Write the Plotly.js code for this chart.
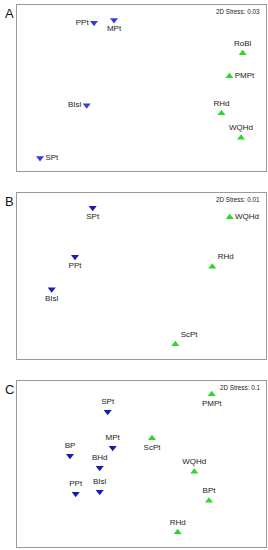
<!DOCTYPE html>
<html>
<head>
<meta charset="utf-8">
<script src="https://cdn.plot.ly/plotly-3.0.1.min.js"></script>
<style>html,body{margin:0;padding:0;background:#fff;}#chart{width:268px;height:550px;}</style>
</head>
<body>
<div id="chart"></div>
<script>
// Panel A (nMDS ordination, box-relative units)
const aLabels = ['PPt','MPt','BIsl','SPt','RoBl','PMPt','RHd','WQHd'];
const aX = [77, 97, 69.7, 23, 225.7, 212.4, 204.4, 224];
const aY = [17.7, 15, 100.3, 153, 48.3, 71.3, 108.3, 132.7];
const aGroup = ['b','b','b','b','g','g','g','g'];
const aPos = ['middle left','bottom center','middle left','middle right','top center','middle right','top center','top center'];
const aStress = '2D Stress: 0.03';

// Panel B
const bLabels = ['SPt','PPt','BIsl','WQHd','RHd','ScPt'];
const bX = [75.7, 58, 34.7, 212.7, 195.3, 158.3];
const bY = [14.4, 63.4, 96, 24, 73.4, 151];
const bGroup = ['b','b','b','g','g','g'];
const bPos = ['bottom center','bottom center','bottom center','middle right','top right','top right'];
const bStress = '2D Stress: 0.01';

// Panel C
const cLabels = ['PMPt','SPt','ScPt','MPt','BP','BHd','WQHd','PPt','BIsl','BPt','RHd'];
const cX = [194.7, 90.7, 135, 95.7, 53, 82.7, 177.3, 58.7, 82.7, 192, 160.7];
const cY = [13.3, 30.7, 57.3, 66.7, 74.7, 86.7, 90.7, 112.7, 110.7, 119.7, 151.3];
const cGroup = ['g','b','g','b','b','b','g','b','b','g','g'];
const cPos = ['bottom center','top center','bottom center','top center','top center','top center','top center','top center','top center','top center','top center'];
const cStress = '2D Stress: 0.1';

const panelLetters = ['A','B','C'];

const GREEN = '#2ed62e';
const blues = ['#3b3bd9', '#1a1ab5', '#1a1ab5'];
const FONT = 'Liberation Sans, Arial, sans-serif';

const panels = [
  {lab:aLabels,x:aX,y:aY,g:aGroup,pos:aPos,stress:aStress},
  {lab:bLabels,x:bX,y:bY,g:bGroup,pos:bPos,stress:bStress},
  {lab:cLabels,x:cX,y:cY,g:cGroup,pos:cPos,stress:cStress}
];

// Layout geometry (pixels)
const W = 268, H = 550;
const boxL = 17, boxR = 265.7;
const boxes = [[5,171],[193.3,359],[381,546.7]];

const traces = [];
const layout = {
  width: W, height: H,
  margin: {l:0,r:0,t:0,b:0},
  paper_bgcolor: '#fff', plot_bgcolor: '#fff',
  showlegend: false,
  annotations: []
};

panels.forEach((p, i) => {
  const ax = i === 0 ? '' : String(i+1);
  ['b','g'].forEach(grp => {
    const idx = p.g.map((v,k)=>v===grp?k:-1).filter(k=>k>=0);
    traces.push({
      type: 'scatter',
      mode: 'markers+text',
      x: idx.map(k=>p.x[k]),
      y: idx.map(k=>p.y[k]),
      text: idx.map(k=>p.lab[k]),
      textposition: idx.map(k=>p.pos[k]),
      textfont: {family: FONT, size: 8, color: '#222'},
      marker: {
        symbol: grp==='b' ? 'triangle-down' : 'triangle-up',
        size: 7,
        color: grp==='b' ? blues[i] : GREEN,
        line: {width: 0}
      },
      xaxis: 'x'+ax, yaxis: 'y'+ax,
      hoverinfo: 'none', cliponaxis: false
    });
  });
  const [top, bot] = boxes[i];
  const axStyle = {
    showgrid:false, zeroline:false, showticklabels:false, ticks:'',
    showline:true, mirror:true, linecolor:'#9a9a9a', linewidth:1.3, fixedrange:true
  };
  layout['xaxis'+ax] = Object.assign({}, axStyle, {
    domain:[boxL/W, boxR/W], range:[0, boxR-boxL], anchor:'y'+ax
  });
  layout['yaxis'+ax] = Object.assign({}, axStyle, {
    domain:[(H-bot)/H, (H-top)/H], range:[bot-top, 0], anchor:'x'+ax
  });
  layout.annotations.push({
    xref:'paper', yref:'paper', x:262/W, y:1-(top+6)/H,
    xanchor:'right', yanchor:'middle', showarrow:false,
    text:p.stress, font:{family:FONT, size:6.3, color:'#222'}
  });
  layout.annotations.push({
    xref:'paper', yref:'paper', x:9/W, y:1-(top+8)/H,
    xanchor:'center', yanchor:'middle', showarrow:false,
    text:panelLetters[i], font:{family:FONT, size:13, color:'#111'}
  });
});

Plotly.newPlot('chart', traces, layout, {staticPlot:true, displayModeBar:false});
</script>
</body>
</html>
